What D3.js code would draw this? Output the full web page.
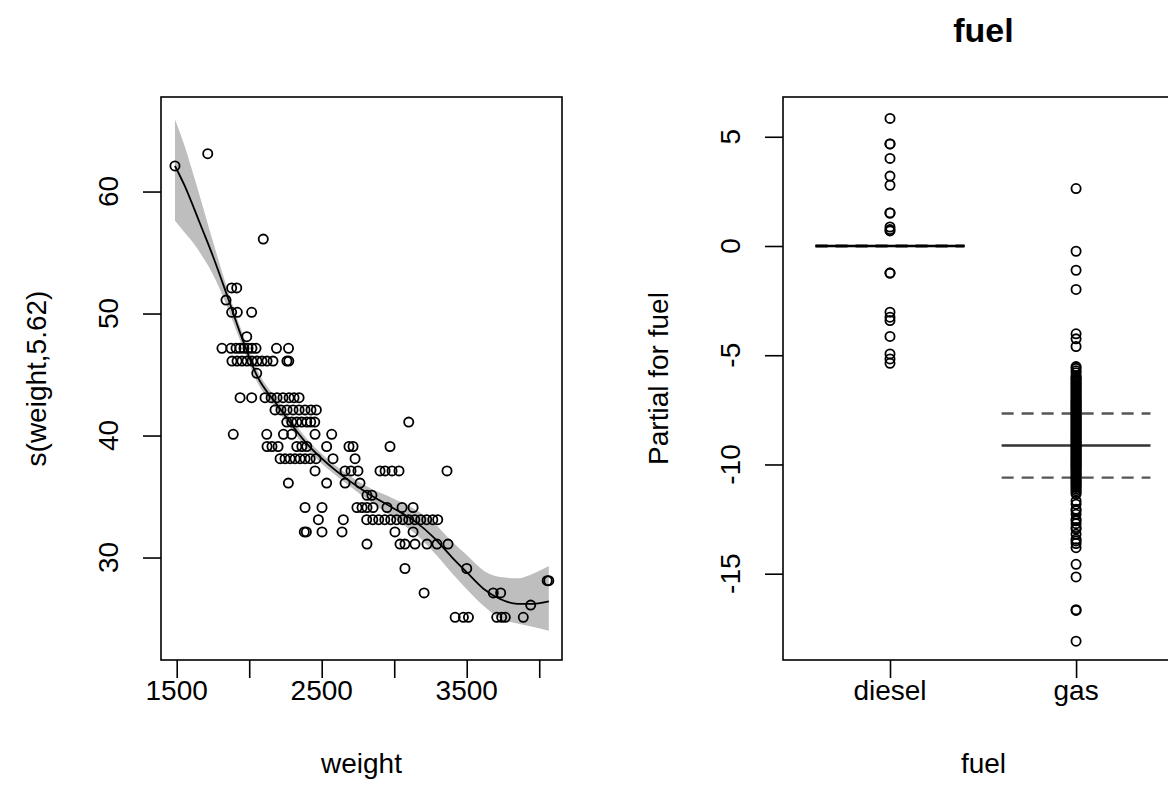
<!DOCTYPE html>
<html><head><meta charset="utf-8">
<script src="https://cdn.jsdelivr.net/npm/d3@7"></script>
<style>
body{margin:0;background:#fff}
svg text{font-family:"Liberation Sans",Arial,Helvetica,sans-serif;fill:#000}
</style>
</head><body>
<svg id="chart" width="1168" height="807"></svg>
<script>
// ---------- data: left panel (smooth of weight) ----------
const curveWeight = [1488,1550,1600,1660,1750,1850,1950,2050,2200,2400,2600,2800,3000,3150,3268,3400,3500,3620,3730,3850,3960,4066];
const curveFit    = [62.1,60.6,59.2,57.4,54.7,51.4,48.0,45.0,42.4,39.3,37.1,35.4,34.0,32.9,31.7,30.0,28.8,27.4,26.6,26.2,26.2,26.4];
const curveLower  = [57.6,56.7,56.0,55.0,53.2,50.5,47.4,44.5,42.0,38.9,36.7,34.9,33.2,31.9,30.5,28.7,27.4,26.0,25.0,24.6,24.3,24.0];
const curveUpper  = [65.9,63.9,62.0,59.6,55.9,52.0,48.5,45.5,42.8,39.7,37.5,35.9,34.8,33.9,32.9,31.3,30.2,28.9,28.4,28.3,28.7,29.3];

const pointWeight = [
  1714,1488,2097,1879,1914,1840,1879,1918,2017,1983,
  1812,1874,1909,1936,1964,1992,2019,2047,2188,2271,
  1881,1916,1950,1985,2019,2054,2088,2123,2164,2260,2273,
  2052,
  1937,2017,2109,2151,2192,2233,2275,2309,2344,
  2178,2219,2261,2302,2344,2385,2426,2463,
  2259,2293,2328,2362,2397,2424,2452,3100,
  1890,2121,2236,2293,2454,2569,
  2123,2157,2199,2328,2363,2397,2534,2688,2716,2971,
  2213,2247,2282,2316,2351,2385,2420,2461,2578,2730,
  2454,2661,2702,2750,2902,2937,2985,3033,3364,
  2270,2534,2661,2764,
  2812,2846,
  2385,2502,2743,2778,2812,2854,2950,3054,3130,
  2477,2649,2810,2852,2893,2935,2976,3017,3059,3100,3142,3183,3224,3266,3300,
  2380,2394,2502,2640,3005,3130,
  2812,3040,3074,3143,3226,3295,3371,
  3074,3500,
  4055,4066,
  3206,3683,3734,
  3941,
  3420,3477,3512,3707,3741,3766,3890
];
const pointPartial = [
  63.1,62.1,56.1,52.1,52.1,51.1,50.1,50.1,50.1,48.1,
  47.15,47.15,47.15,47.15,47.15,47.15,47.15,47.15,47.15,47.15,
  46.1,46.1,46.1,46.1,46.1,46.1,46.1,46.1,46.1,46.1,46.1,
  45.1,
  43.1,43.1,43.1,43.1,43.1,43.1,43.1,43.1,43.1,
  42.1,42.1,42.1,42.1,42.1,42.1,42.1,42.1,
  41.1,41.1,41.1,41.1,41.1,41.1,41.1,41.1,
  40.1,40.1,40.1,40.1,40.1,40.1,
  39.1,39.1,39.1,39.1,39.1,39.1,39.1,39.1,39.1,39.1,
  38.1,38.1,38.1,38.1,38.1,38.1,38.1,38.1,38.1,38.1,
  37.1,37.1,37.1,37.1,37.1,37.1,37.1,37.1,37.1,
  36.1,36.1,36.1,36.1,
  35.1,35.1,
  34.1,34.1,34.1,34.1,34.1,34.1,34.1,34.1,34.1,
  33.1,33.1,33.1,33.1,33.1,33.1,33.1,33.1,33.1,33.1,33.1,33.1,33.1,33.1,33.1,
  32.1,32.1,32.1,32.1,32.1,32.1,
  31.1,31.1,31.1,31.1,31.1,31.1,31.1,
  29.1,29.1,
  28.1,28.1,
  27.1,27.1,27.1,
  26.1,
  25.1,25.1,25.1,25.1,25.1,25.1,25.1
];
const weightTicks = [1500,2000,2500,3000,3500,4000];
const weightTickLabels = ["1500","","2500","","3500",""];
const smoothTicks = [30,40,50,60];

// ---------- data: right panel (fuel term) ----------
const fuelLevels = ["diesel","gas"];
const fuelFit   = [0, -9.13];
const fuelLower = [0, -10.6];
const fuelUpper = [0, -7.67];
const dieselPartial = [5.84,4.67,4.67,4.01,3.20,2.78,1.51,1.51,0.87,0.75,0.69,-1.24,-1.24,-3.03,-3.26,-3.41,-4.14,-4.94,-5.17,-5.37];
const gasPartial = [2.63,-0.24,-1.11,-1.99,-4.02,-4.25,-4.60,-5.52,-5.60,-5.71,-5.80,-5.94,
  -6.00,-6.05,-6.10,-6.16,-6.22,-6.28,-6.34,-6.40,-6.46,-6.52,-6.58,-6.64,-6.70,-6.76,-6.82,-6.88,-6.94,-7.00,
  -7.05,-7.10,-7.15,-7.20,-7.25,-7.30,-7.35,-7.40,-7.45,-7.50,-7.55,-7.60,-7.65,-7.70,-7.75,-7.80,-7.85,-7.90,-7.95,-8.00,
  -8.05,-8.10,-8.15,-8.20,-8.25,-8.30,-8.35,-8.40,-8.45,-8.50,-8.55,-8.60,-8.65,-8.70,-8.75,-8.80,-8.85,-8.90,-8.95,-9.00,
  -9.05,-9.10,-9.15,-9.20,-9.25,-9.30,-9.35,-9.40,-9.45,-9.50,-9.55,-9.60,-9.65,-9.70,-9.75,-9.80,-9.85,-9.90,-9.95,-10.00,
  -10.05,-10.10,-10.15,-10.20,-10.26,-10.32,-10.38,-10.44,-10.50,-10.56,-10.62,-10.68,-10.74,-10.80,-10.86,-10.92,-10.98,-11.05,-11.12,-11.20,-11.28,
  -11.36,-11.67,-11.82,-12.05,-12.12,-12.28,-12.50,-12.58,-12.71,-12.89,-12.96,-13.19,-13.42,-13.50,-13.62,-13.81,
  -14.57,-15.15,-16.65,-16.68,-18.09];
const fuelTicks = [5,0,-5,-10,-15];

// ---------- layout ----------
const svg = d3.select("#chart");
const FS = 28;
const L1 = {left:161, right:562, top:97, bottom:660};
const L2 = {left:783, right:1184, top:97, bottom:660};
const R = 4.6, SW = 1.8;

function frame(p){
  svg.append("rect").attr("x",p.left).attr("y",p.top)
    .attr("width",p.right-p.left).attr("height",p.bottom-p.top)
    .attr("fill","none").attr("stroke","#000").attr("stroke-width",1.6);
}
function rText(x,y,t){
  return svg.append("text").attr("transform",`translate(${x},${y}) rotate(-90)`)
    .attr("text-anchor","middle").attr("font-size",FS).text(t);
}

// ---------- left panel ----------
const x1 = d3.scaleLinear().domain([1391.7,4157]).range([L1.left,L1.right]);
const y1 = d3.scaleLinear().domain([21.6,67.75]).range([L1.bottom,L1.top]);

const bandData = curveWeight.map((w,i)=>({w, lo:curveLower[i], hi:curveUpper[i], f:curveFit[i]}));
svg.append("path").datum(bandData)
  .attr("d", d3.area().x(d=>x1(d.w)).y0(d=>y1(d.lo)).y1(d=>y1(d.hi)).curve(d3.curveMonotoneX))
  .attr("fill","#bebebe");
svg.append("path").datum(bandData)
  .attr("d", d3.line().x(d=>x1(d.w)).y(d=>y1(d.f)).curve(d3.curveMonotoneX))
  .attr("fill","none").attr("stroke","#000").attr("stroke-width",1.8);

svg.append("g").selectAll("circle").data(pointWeight).join("circle")
  .attr("cx",d=>x1(d)).attr("cy",(d,i)=>y1(pointPartial[i])).attr("r",R)
  .attr("fill","none").attr("stroke","#000").attr("stroke-width",SW);

frame(L1);

const gx1 = svg.append("g").attr("transform",`translate(0,${L1.bottom})`)
  .call(d3.axisBottom(x1).tickValues(weightTicks).tickSize(18).tickFormat(""));
gx1.select(".domain").remove();
gx1.selectAll("line").attr("stroke","#000").attr("stroke-width",1.6);
svg.append("g").selectAll("text").data(weightTicks).join("text")
  .attr("x",d=>x1(d)).attr("y",L1.bottom+40).attr("text-anchor","middle")
  .attr("font-size",FS).text((d,i)=>weightTickLabels[i]);
svg.append("text").attr("x",(L1.left+L1.right)/2).attr("y",L1.bottom+113)
  .attr("text-anchor","middle").attr("font-size",FS).text("weight");

const gy1 = svg.append("g").attr("transform",`translate(${L1.left},0)`)
  .call(d3.axisLeft(y1).tickValues(smoothTicks).tickSize(18).tickFormat(""));
gy1.select(".domain").remove();
gy1.selectAll("line").attr("stroke","#000").attr("stroke-width",1.6);
smoothTicks.forEach(t=>rText(L1.left-43, y1(t), String(t)));
rText(L1.left-115,(L1.top+L1.bottom)/2,"s(weight,5.62)");

// ---------- right panel ----------
const x2 = d3.scaleLinear().domain([0.425,2.58]).range([L2.left,L2.right]);
const y2 = d3.scaleLinear().domain([-18.95,6.82]).range([L2.bottom,L2.top]);

fuelLevels.forEach((lev,i)=>{
  const xc = i+1;
  const xa = x2(xc-0.4), xb = x2(xc+0.4);
  svg.append("line").attr("x1",xa).attr("x2",xb).attr("y1",y2(fuelFit[i])).attr("y2",y2(fuelFit[i]))
    .attr("stroke", i===0 ? "#000" : "#333").attr("stroke-width",2.6);
  [fuelLower[i],fuelUpper[i]].forEach(v=>{
    svg.append("line").attr("x1",xa).attr("x2",xb).attr("y1",y2(v)).attr("y2",y2(v))
      .attr("stroke", i===0 ? "#000" : "#555").attr("stroke-width",2.4)
      .attr("stroke-dasharray","12,8");
  });
});

svg.append("g").selectAll("circle").data(dieselPartial).join("circle")
  .attr("cx",x2(1)).attr("cy",d=>y2(d)).attr("r",R)
  .attr("fill","none").attr("stroke","#000").attr("stroke-width",SW);
svg.append("g").selectAll("circle").data(gasPartial).join("circle")
  .attr("cx",x2(2)).attr("cy",d=>y2(d)).attr("r",R)
  .attr("fill","none").attr("stroke","#000").attr("stroke-width",SW);

frame(L2);

const gx2 = svg.append("g").attr("transform",`translate(0,${L2.bottom})`)
  .call(d3.axisBottom(x2).tickValues([1,2]).tickSize(18).tickFormat(""));
gx2.select(".domain").remove();
gx2.selectAll("line").attr("stroke","#000").attr("stroke-width",1.6);
svg.append("g").selectAll("text").data(fuelLevels).join("text")
  .attr("x",(d,i)=>x2(i+1)).attr("y",L2.bottom+40).attr("text-anchor","middle")
  .attr("font-size",FS).text(d=>d);
svg.append("text").attr("x",(L2.left+L2.right)/2).attr("y",L2.bottom+113)
  .attr("text-anchor","middle").attr("font-size",FS).text("fuel");

const gy2 = svg.append("g").attr("transform",`translate(${L2.left},0)`)
  .call(d3.axisLeft(y2).tickValues(fuelTicks).tickSize(18).tickFormat(""));
gy2.select(".domain").remove();
gy2.selectAll("line").attr("stroke","#000").attr("stroke-width",1.6);
fuelTicks.forEach(t=>rText(L2.left-43, y2(t), String(t)));
rText(L2.left-115,(L2.top+L2.bottom)/2,"Partial for fuel");

svg.append("text").attr("x",(L2.left+L2.right)/2).attr("y",42)
  .attr("text-anchor","middle").attr("font-size",34).attr("font-weight","bold").text("fuel");
</script>
</body></html>
